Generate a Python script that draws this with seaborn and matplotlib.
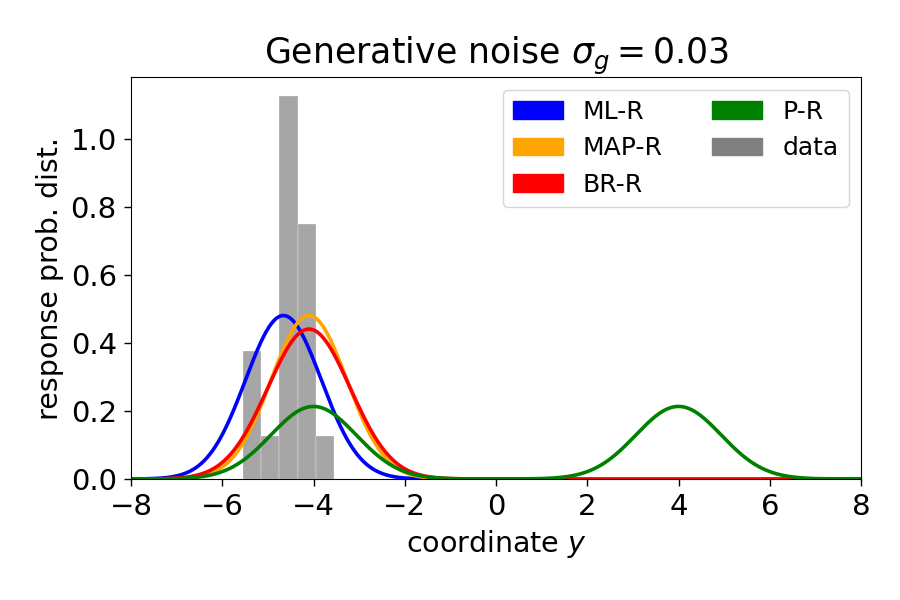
import numpy as np
import pandas as pd
import matplotlib
matplotlib.use("Agg")
import matplotlib.pyplot as plt
from matplotlib.patches import Patch
import seaborn as sns

# ---- data ----
# histogram of observed data (density per bin)
bin_edges = [-5.55, -5.15, -4.75, -4.35, -3.95, -3.55]
bin_heights = [0.375, 0.125, 1.125, 0.75, 0.125]

# response distributions: Gaussian (mixture) parameters per model
models = ["ML-R", "MAP-R", "BR-R", "P-R"]
model_colors = ["blue", "orange", "red", "green"]
model_means = [[-4.66], [-4.10], [-4.10], [-4.00, 4.00]]
model_sigmas = [[0.83], [0.83], [0.905], [0.935, 0.935]]
model_weights = [[1.0], [1.0], [1.0], [0.5, 0.5]]

data_label = "data"
data_color = "gray"

title = r"Generative noise $\sigma_g = 0.03$"
xlabel = r"coordinate $y$"
ylabel = "response prob. dist."

# ---- figure ----
fig = plt.figure(figsize=(9, 6), dpi=100)
ax = fig.add_axes([0.1456, 0.2017, 0.9567 - 0.1456, 0.8712 - 0.2017])

centers = [(a + b) / 2 for a, b in zip(bin_edges[:-1], bin_edges[1:])]
sns.histplot(x=centers, weights=bin_heights, bins=bin_edges, stat="count",
             color=data_color, alpha=0.7, edgecolor="white", linewidth=0.2,
             ax=ax)

grid = np.linspace(-8, 8, 801)
for name, col, mus, sds, ws in zip(models, model_colors, model_means,
                                   model_sigmas, model_weights):
    dens = np.zeros_like(grid)
    for m, s, w in zip(mus, sds, ws):
        dens += w * np.exp(-0.5 * ((grid - m) / s) ** 2) / (s * np.sqrt(2 * np.pi))
    df = pd.DataFrame({"y": grid, "p": dens})
    sns.lineplot(data=df, x="y", y="p", color=col, linewidth=2.6, ax=ax)

ax.set_xlim(-8, 8)
ax.set_ylim(0, 1.125 * 1.05)
ax.set_xticks([-8, -6, -4, -2, 0, 2, 4, 6, 8])
ax.set_yticks([0.0, 0.2, 0.4, 0.6, 0.8, 1.0])
ax.set_yticklabels([f"{v:.1f}" for v in [0.0, 0.2, 0.4, 0.6, 0.8, 1.0]])
ax.tick_params(labelsize=21, length=5.25, width=1, pad=5)
ax.set_xlabel(xlabel, fontsize=20.5, labelpad=5)
ax.set_ylabel(ylabel, fontsize=20.5, labelpad=5)
ax.set_title(title, fontsize=25, pad=6)

handles = [Patch(color=c, label=n) for n, c in zip(models[:3], model_colors[:3])]
handles += [Patch(color=model_colors[3], label=models[3]),
            Patch(color=data_color, label=data_label)]
ax.legend(handles=handles, ncol=2, loc="upper right", fontsize=18)

fig.savefig("out.png", dpi=100)
